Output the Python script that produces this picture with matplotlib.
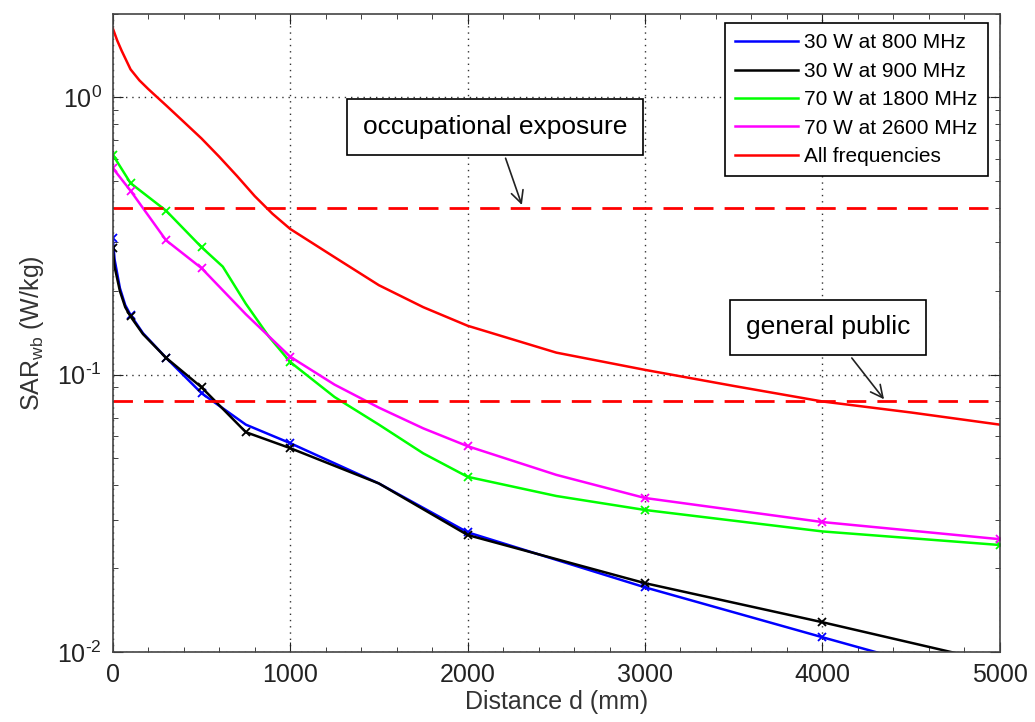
import matplotlib
matplotlib.use("Agg")
import matplotlib.pyplot as plt
from matplotlib.ticker import MultipleLocator, LogLocator, NullFormatter, FuncFormatter
import numpy as np

plt.rcParams['font.family'] = ['Liberation Sans', 'DejaVu Sans']
plt.rcParams['mathtext.fontset'] = 'custom'
plt.rcParams['mathtext.rm'] = 'Liberation Sans'

# whole-body SAR vs distance, one curve per source
d_800 = [0, 10, 40, 70, 100, 170, 300, 500, 750, 1000, 1500, 2000, 3000, 4000, 5000]
sar_800 = [0.31, 0.26, 0.205, 0.178, 0.164, 0.141, 0.115, 0.0857, 0.066, 0.0566,
           0.0405, 0.027, 0.0171, 0.0113, 0.0075]
mark_800 = [0, 4, 6, 7, 9, 11, 12, 13]

d_900 = [0, 10, 40, 70, 100, 170, 300, 500, 750, 1000, 1500, 2000, 3000, 4000, 5000]
sar_900 = [0.285, 0.245, 0.20, 0.175, 0.162, 0.14, 0.115, 0.090, 0.062, 0.0543,
           0.0405, 0.0264, 0.0177, 0.0128, 0.0091]
mark_900 = [0, 4, 6, 7, 8, 9, 11, 12, 13]

d_1800 = [0, 100, 300, 500, 620, 750, 880, 1000, 1250, 1500, 1750, 2000, 2500, 3000, 4000, 5000]
sar_1800 = [0.62, 0.49, 0.39, 0.288, 0.245, 0.18, 0.137, 0.111, 0.083, 0.066, 0.052,
            0.0428, 0.0365, 0.0325, 0.0272, 0.0243]
mark_1800 = [0, 1, 2, 3, 7, 11, 13, 15]

d_2600 = [0, 100, 300, 500, 750, 1000, 1250, 1500, 1750, 2000, 2500, 3000, 4000, 5000]
sar_2600 = [0.555, 0.46, 0.305, 0.242, 0.165, 0.116, 0.092, 0.076, 0.064, 0.0552,
            0.0435, 0.0359, 0.0294, 0.0255]
mark_2600 = [0, 1, 2, 3, 5, 9, 11, 12, 13]

d_all = [0, 25, 50, 100, 150, 200, 250, 300, 400, 500, 600, 700, 800, 900, 1000,
         1250, 1500, 1750, 2000, 2500, 3000, 3500, 4000, 4500, 5000]
sar_all = [1.77, 1.6, 1.47, 1.26, 1.15, 1.07, 1.0, 0.935, 0.815, 0.71, 0.61, 0.52,
           0.44, 0.38, 0.335, 0.265, 0.21, 0.175, 0.15, 0.12, 0.104, 0.091, 0.08,
           0.073, 0.066]

limit_occ = 0.4
limit_pub = 0.08

series = [
    (d_800, sar_800, mark_800, (0, 0, 1), '30 W at 800 MHz'),
    (d_900, sar_900, mark_900, (0, 0, 0), '30 W at 900 MHz'),
    (d_1800, sar_1800, mark_1800, (0, 1, 0), '70 W at 1800 MHz'),
    (d_2600, sar_2600, mark_2600, (1, 0, 1), '70 W at 2600 MHz'),
]

fig = plt.figure(figsize=(10.35, 7.22), dpi=100)
ax = fig.add_axes([0.109, 0.097, 0.857, 0.884])

for d, s, m, c, lab in series:
    ax.plot(d, s, color=c, lw=1.8, label=lab)
    ax.plot([d[i] for i in m], [s[i] for i in m], ls='none', marker='x',
            color=c, ms=6, mew=1.3)
ax.plot(d_all, sar_all, color=(1, 0, 0), lw=1.8, label='All frequencies')

ax.axhline(limit_occ, color=(1, 0, 0), lw=2, ls=(0, (7, 4)))
ax.axhline(limit_pub, color=(1, 0, 0), lw=2, ls=(0, (7, 4)))

ax.set_yscale('log')
ax.set_xlim(0, 5000)
ax.set_ylim(0.01, 2)
ax.xaxis.set_major_locator(MultipleLocator(1000))
ax.xaxis.set_minor_locator(MultipleLocator(200))
ax.yaxis.set_major_locator(LogLocator(base=10))
ax.yaxis.set_minor_locator(LogLocator(base=10, subs=range(2, 10)))
ax.yaxis.set_minor_formatter(NullFormatter())
ax.yaxis.set_major_formatter(FuncFormatter(
    lambda v, pos: '10$^{\\text{%d}}$' % int(round(np.log10(v)))))

ax.grid(True, which='major', ls=(0, (1, 3.5)), color='#333333', lw=1)
ax.tick_params(which='both', direction='in', top=True, right=True,
               labelsize=18, colors='#222222', pad=8)
ax.tick_params(which='major', length=7)
ax.tick_params(which='minor', length=3.5)
for sp in ax.spines.values():
    sp.set_color('#444444')
    sp.set_linewidth(1.2)

ax.set_xlabel('Distance d (mm)', fontsize=18, color='#333333', labelpad=2)
ax.set_ylabel('SAR$_\\mathregular{wb}$ (W/kg)', fontsize=18, color='#333333', labelpad=8)

box = dict(boxstyle='square,pad=0.6', fc='white', ec='black', lw=1.2)
arrow = dict(arrowstyle='->', color='#222222', lw=1.2, mutation_scale=22)
ax.annotate('occupational exposure', xy=(2311, limit_occ), xytext=(2153, 0.78),
            fontsize=19, ha='center', va='center', bbox=box, arrowprops=arrow)
ax.annotate('general public', xy=(4357, limit_pub), xytext=(4031, 0.148),
            fontsize=19, ha='center', va='center', bbox=box, arrowprops=arrow)

leg = ax.legend(loc='upper right', bbox_to_anchor=(988 / 1035, 1 - 23 / 722),
                bbox_transform=fig.transFigure, borderaxespad=0, fontsize=15,
                handlelength=3.0, handletextpad=0.3, labelspacing=0.45,
                fancybox=False, framealpha=1, borderpad=0.5)
leg.get_frame().set_edgecolor('black')
leg.get_frame().set_linewidth(1.2)

fig.savefig('out.png', dpi=100)
